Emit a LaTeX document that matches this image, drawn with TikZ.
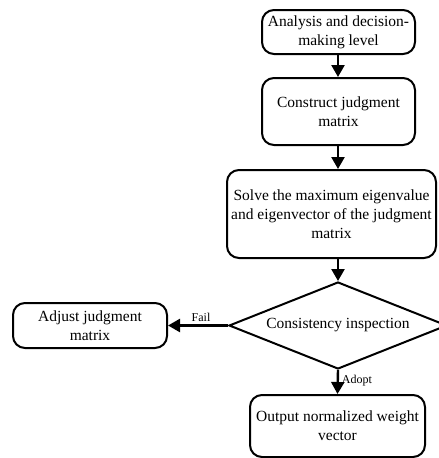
\documentclass[tikz,border=0pt]{standalone}
\usepackage{fontspec}
\setmainfont{Liberation Serif}
\usetikzlibrary{shapes.geometric,arrows.meta}
\begin{document}
\begin{tikzpicture}[x=1pt,y=-1pt,
  every node/.style={font=\fontsize{15.5}{19}\selectfont},
  procbox/.style={draw,line width=2pt,rounded corners=12pt,align=center,inner sep=0pt},
  decbox/.style={draw,line width=2pt,shape=diamond,aspect=2.5,inner sep=0pt,align=center},
  flow/.style={line width=2.4pt,-{Triangle[length=12pt,width=13pt]}},
  lab/.style={font=\fontsize{12}{14}\selectfont,inner sep=3pt}]
\useasboundingbox (0,0) rectangle (439,458);
\begin{scope}
\clip (0,0) rectangle (439,458);
\node[procbox,minimum width=153pt,minimum height=44pt] (b1) at (338.5,32) {Analysis and decision-\\making level};
\node[procbox,minimum width=153pt,minimum height=67pt] (b2) at (338.5,111.5) {Construct judgment\\matrix};
\node[procbox,minimum width=209pt,minimum height=88pt] (b3) at (331.5,214) {Solve the maximum eigenvalue\\and eigenvector of the judgment\\matrix};
\node[decbox,minimum width=218pt,minimum height=87pt] (d) at (338,325.5) {Consistency inspection};
\node[procbox,minimum width=154pt,minimum height=45pt] (adj) at (90,325.5) {Adjust judgment\\matrix};
\node[procbox,minimum width=175pt,minimum height=62pt] (out) at (337.5,426) {Output normalized weight\\vector};
\draw[flow] (b1.south -| d.north) -- (b2.north -| d.north);
\draw[flow] (b2.south -| d.north) -- (b3.north -| d.north);
\draw[flow] (b3.south -| d.north) -- (d.north);
\draw[flow] (d.west) -- node[lab,above,pos=0.45] (fl) {Fail} (adj.east);
\draw[flow] (d.south) -- node[lab,right,pos=0.45] (al) {Adopt} (out.north);
\end{scope}
\end{tikzpicture}
\end{document}
